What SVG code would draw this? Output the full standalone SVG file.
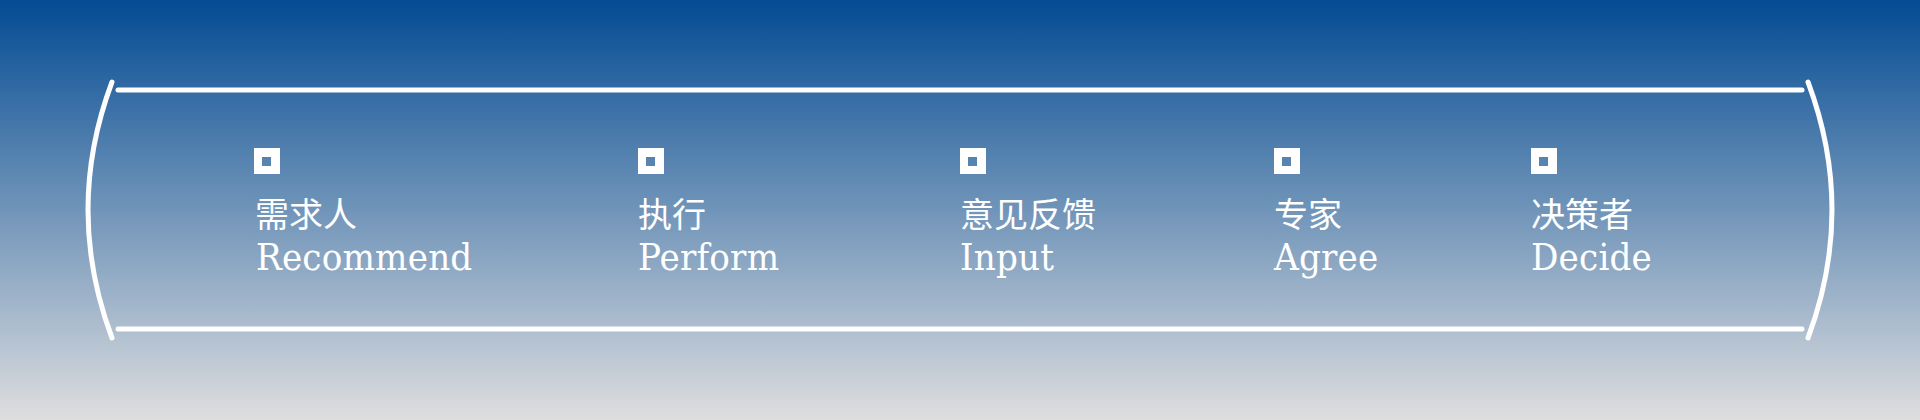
<svg xmlns="http://www.w3.org/2000/svg" width="1920" height="420" viewBox="0 0 1920 420">
<defs>
<linearGradient id="bg" x1="0" y1="0" x2="0" y2="1">
<stop offset="0" stop-color="#034B93"/>
<stop offset="1" stop-color="#DEDEDF"/>
</linearGradient>
<style>
.frame{fill:none;stroke:#FFFFFF;stroke-width:5;stroke-linecap:round}
.mark{fill:#FFFFFF;fill-rule:evenodd}
.zh{font-family:"Noto Sans CJK SC","Noto Sans",sans-serif;font-size:34px;fill:#FFFFFF}
.en{font-family:"DejaVu Serif Condensed","DejaVu Serif","Liberation Serif",serif;font-stretch:condensed;font-size:38px;fill:#FFFFFF;letter-spacing:0.2px}
</style>
</defs>
<rect x="0" y="0" width="1920" height="420" fill="url(#bg)"/>
<g id="frame">
<path class="frame" d="M112 82 Q64 210 112 338"/>
<path class="frame" d="M1808 82 Q1856 210 1808 338"/>
<line class="frame" x1="118" y1="90" x2="1802" y2="90"/>
<line class="frame" x1="118" y1="329" x2="1802" y2="329"/>
</g>
<g id="node-recommend">
<path class="mark" d="M254 148h26v26h-26z M262 157v9h9v-9z"/>
<text class="zh" x="255" y="227">需求人</text>
<text class="en" x="256" y="270">Recommend</text>
</g>
<g id="node-perform">
<path class="mark" d="M638 148h26v26h-26z M646 157v9h9v-9z"/>
<text class="zh" x="638" y="227">执行</text>
<text class="en" x="638" y="270">Perform</text>
</g>
<g id="node-input">
<path class="mark" d="M960 148h26v26h-26z M968 157v9h9v-9z"/>
<text class="zh" x="960" y="227">意见反馈</text>
<text class="en" x="960" y="270">Input</text>
</g>
<g id="node-agree">
<path class="mark" d="M1274 148h26v26h-26z M1282 157v9h9v-9z"/>
<text class="zh" x="1274" y="227">专家</text>
<text class="en" x="1274" y="270">Agree</text>
</g>
<g id="node-decide">
<path class="mark" d="M1531 148h26v26h-26z M1539 157v9h9v-9z"/>
<text class="zh" x="1531" y="227">决策者</text>
<text class="en" x="1531" y="270">Decide</text>
</g>
<g id="connectors"></g>
</svg>
